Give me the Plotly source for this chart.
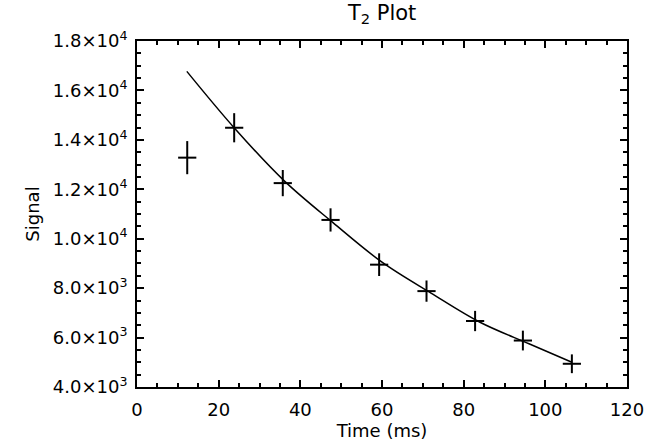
import plotly.graph_objects as go

time_ms = [12.3, 23.8, 35.7, 47.4, 59.3, 70.9, 82.8, 94.5, 106.5]
signal = [13280, 14490, 12250, 10760, 8950, 7880, 6670, 5880, 4940]
signal_err = [670, 590, 530, 470, 460, 430, 410, 400, 380]

# Fitted curve
fit_time = [12.2, 24, 36, 48, 60, 72, 84, 96, 106.5]
fit_signal = [16770, 14450, 12350, 10650, 9050, 7800, 6620, 5750, 5000]

# Axis ticks
x_ticks = [0, 20, 40, 60, 80, 100, 120]
y_ticks = [4000, 6000, 8000, 10000, 12000, 14000, 16000, 18000]
y_tick_text = ["4.0×10<sup>3</sup>", "6.0×10<sup>3</sup>", "8.0×10<sup>3</sup>",
               "1.0×10<sup>4</sup>", "1.2×10<sup>4</sup>", "1.4×10<sup>4</sup>",
               "1.6×10<sup>4</sup>", "1.8×10<sup>4</sup>"]

FONT = "DejaVu Sans"

fig = go.Figure()
fig.add_trace(go.Scatter(
    x=fit_time, y=fit_signal, mode="lines",
    line=dict(color="black", width=1.5, shape="spline"),
    showlegend=False, hoverinfo="skip"))
fig.add_trace(go.Scatter(
    x=time_ms, y=signal, mode="markers",
    marker=dict(symbol="line-ew", size=13, color="black",
                line=dict(color="black", width=2)),
    error_y=dict(type="data", array=signal_err, color="black",
                 thickness=2, width=0),
    showlegend=False))

axis_common = dict(
    showline=True, linecolor="black", linewidth=2, mirror="ticks",
    ticks="inside", ticklen=7, tickwidth=2, tickcolor="black",
    showgrid=False, zeroline=False,
    tickfont=dict(family=FONT, size=18, color="black"),
)

fig.update_xaxes(
    range=[0, 120], tickvals=x_ticks,
    minor=dict(ticks="inside", ticklen=4, tickwidth=1.5, tickcolor="black", dtick=5),
    title=dict(text="Time (ms)", font=dict(family=FONT, size=18, color="black"), standoff=0),
    ticklabelstandoff=5,
    **axis_common)
fig.update_yaxes(
    range=[4000, 18000], tickvals=y_ticks, ticktext=y_tick_text,
    minor=dict(ticks="inside", ticklen=4, tickwidth=1.5, tickcolor="black", dtick=500),
    title=dict(text="Signal", font=dict(family=FONT, size=18, color="black"), standoff=8),
    ticklabelstandoff=4,
    **axis_common)

fig.update_layout(
    width=656, height=444,
    margin=dict(l=137, r=29, t=41, b=55),
    paper_bgcolor="white", plot_bgcolor="white",
    title=dict(text="T<sub>2</sub> Plot", x=0.5825, xanchor="center", y=0.972, yanchor="middle",
               font=dict(family=FONT, size=21, color="black")),
)

fig.write_html("out.html", config={"displayModeBar": False},
               post_script="document.body.style.margin='0';document.body.style.padding='0';")
